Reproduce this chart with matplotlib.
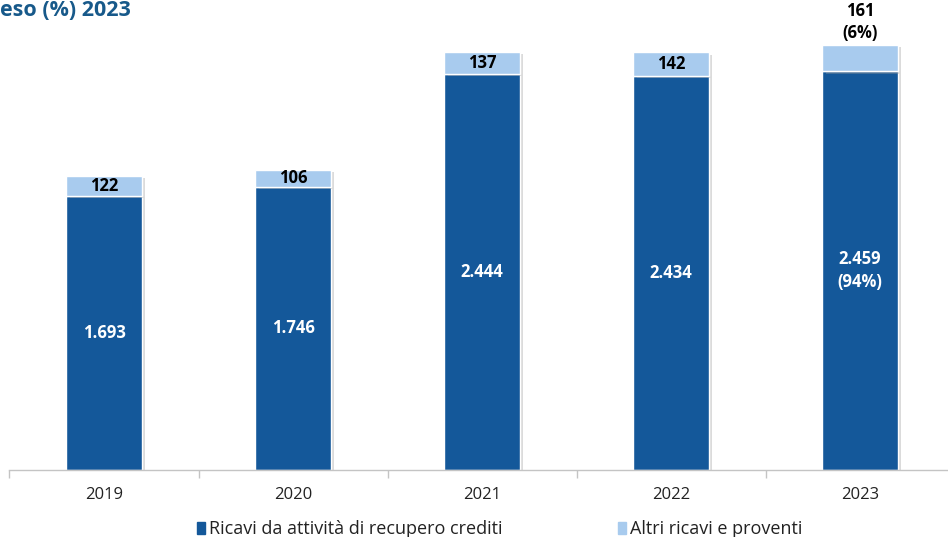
import matplotlib
matplotlib.use("Agg")
import matplotlib.pyplot as plt
import matplotlib.patheffects as pe
import numpy as np

plt.rcParams['font.family'] = ['Open Sans', 'DejaVu Sans']

years = ["2019", "2020", "2021", "2022", "2023"]
recupero = [1693, 1746, 2444, 2434, 2459]
altri = [122, 106, 137, 142, 161]
recupero_labels = ["1.693", "1.746", "2.444", "2.434", "2.459\n(94%)"]
altri_labels = ["122", "106", "137", "142", "161\n(6%)"]

DARK = "#14589a"
LIGHT = "#a8cbee"

fig = plt.figure(figsize=(9.48, 5.37), dpi=100)
ax = fig.add_axes([0.010, 0.125, 0.997, 0.875])

x = np.arange(len(years))
w = 0.40
shadow = [pe.SimplePatchShadow(offset=(2.5, -1.5), shadow_rgbFace="#9a9a9a", alpha=0.35), pe.Normal()]

ax.bar(x, recupero, w, color=DARK, edgecolor="white", linewidth=1.0, path_effects=shadow)
ax.bar(x, altri, w, bottom=recupero, color=LIGHT, edgecolor="white", linewidth=1.0, path_effects=shadow)

for i in range(len(years)):
    ax.text(x[i], recupero[i] / 2, recupero_labels[i], ha="center", va="center",
            color="white", fontsize=12, fontweight="bold", linespacing=1.35)
    if i == len(years) - 1:
        ax.text(x[i], recupero[i] + altri[i] + 20, altri_labels[i], ha="center", va="bottom",
                color="black", fontsize=12, fontweight="bold", linespacing=1.3)
    else:
        ax.text(x[i], recupero[i] + altri[i] / 2, altri_labels[i], ha="center", va="center",
                color="black", fontsize=12, fontweight="bold")

ax.set_xlim(-0.5, len(years) - 0.5)
ax.set_ylim(0, 2900)
ax.set_yticks([])
for s in ["top", "right", "left"]:
    ax.spines[s].set_visible(False)
ax.spines["bottom"].set_color("#c4c4c4")
ax.spines["bottom"].set_linewidth(1.0)

ax.set_xticks(x)
ax.set_xticklabels(years, fontsize=12, color="#222222")
ax.tick_params(axis="x", which="major", length=0, pad=12)
ax.set_xticks(np.arange(-0.5, len(years), 1.0), minor=True)
ax.tick_params(axis="x", which="minor", length=6, color="#c4c4c4", width=1.0)

handles = [plt.Rectangle((0, 0), 1, 1, color=DARK), plt.Rectangle((0, 0), 1, 1, color=LIGHT)]
fig.legend(handles, ["Ricavi da attività di recupero crediti", "Altri ricavi e proventi"],
           loc="center", bbox_to_anchor=(0.527, 0.015), ncol=2, frameon=False,
           fontsize=13, handlelength=0.45, handleheight=0.65, handletextpad=0.2,
           columnspacing=6.4, labelcolor="#222222")

fig.text(0.0, 1.0, "eso (%) 2023", ha="left", va="top", color="#17598a",
         fontsize=15.5, fontweight="bold")

fig.savefig("out.png", dpi=100)
